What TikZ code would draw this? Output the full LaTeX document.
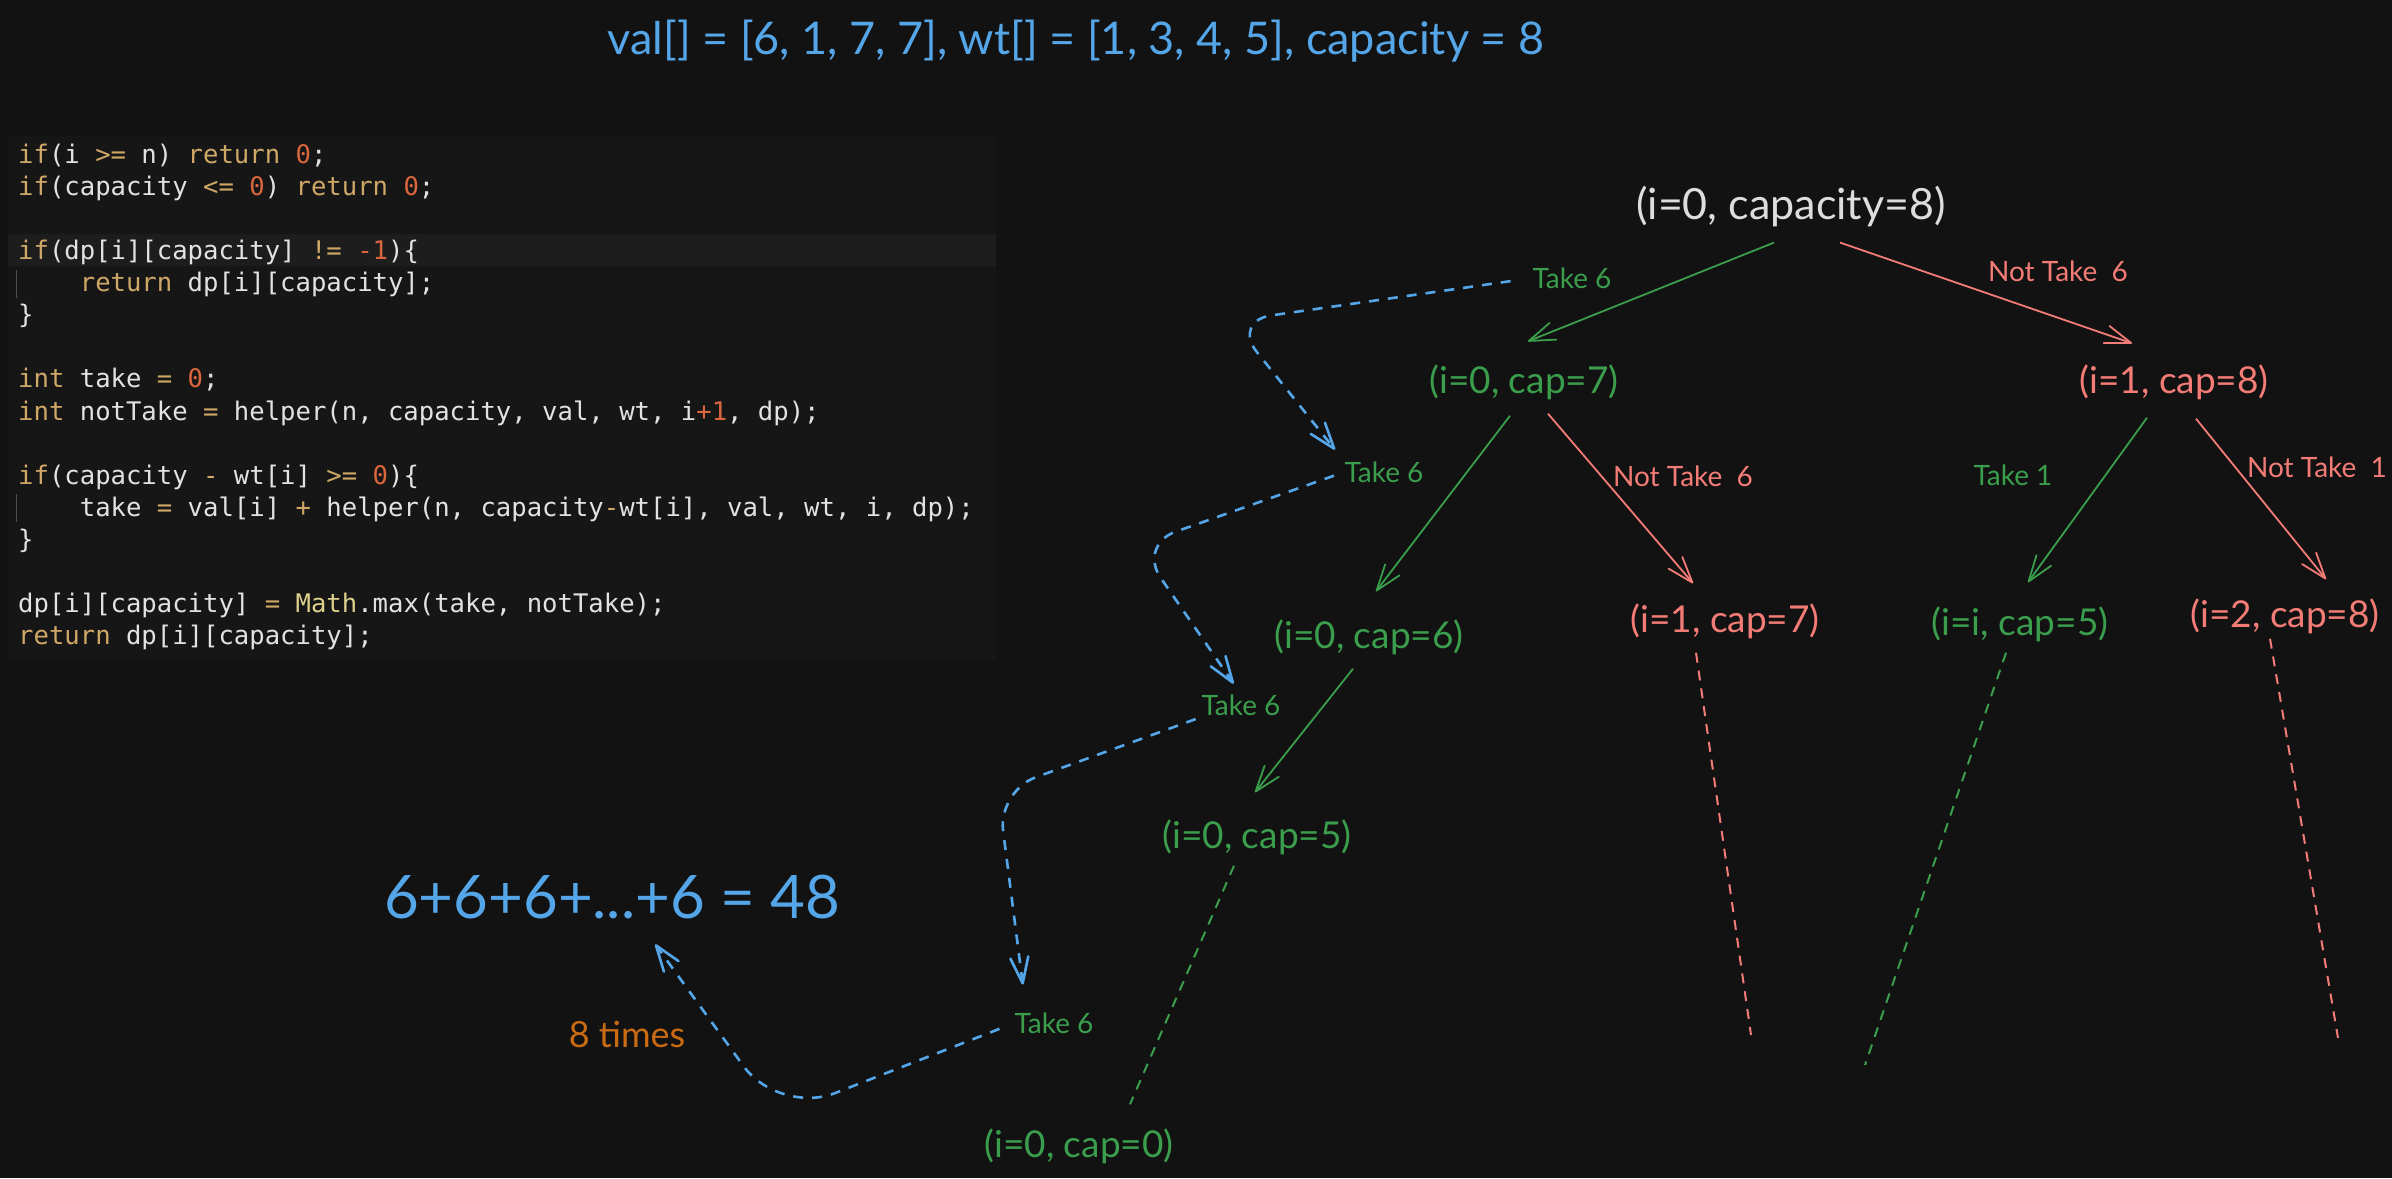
\documentclass[tikz,border=0pt]{standalone}
\usepackage{fontspec}
\setmainfont{Lato}
\newfontfamily\codefont{DejaVu Sans Mono}
\usetikzlibrary{arrows.meta,positioning}

\definecolor{bgcol}{HTML}{121212}
\definecolor{codebg}{HTML}{161616}
\definecolor{linebg}{HTML}{1D1D1D}
\definecolor{tgreen}{HTML}{3A9E4C}
\definecolor{tred}{HTML}{F47C76}
\definecolor{tblue}{HTML}{55A6E8}
\definecolor{tgray}{HTML}{DDDDDD}
\definecolor{torange}{HTML}{C96B12}
\definecolor{kwcol}{HTML}{CFA766}
\definecolor{numcol}{HTML}{D9663C}
\definecolor{txtcol}{HTML}{E2E2E2}
\definecolor{clscol}{HTML}{DCD08A}

\newcommand{\kw}[1]{\textcolor{kwcol}{#1}}
\newcommand{\nm}[1]{\textcolor{numcol}{#1}}
\newcommand{\cls}[1]{\textcolor{clscol}{#1}}
\newcommand{\indentsp}{\phantom{xxxx}}

\begin{document}
\begin{tikzpicture}[x=1pt, y=-1pt,
  >={Straight Barb[length=26pt,width=18pt,line cap=round,line join=round]},
  state/.style={inner sep=0pt, font=\fontsize{37}{44}\selectfont},
  lbl/.style={inner sep=0pt, font=\fontsize{28}{33}\selectfont},
  treearrow/.style={line width=1.8pt, ->},
  stub/.style={line width=2pt, dash pattern=on 10pt off 8pt},
  hop/.style={tblue, line width=2.6pt, dash pattern=on 10pt off 9pt, rounded corners=40pt, ->},
  codeline/.style={anchor=base west, inner sep=0pt, text=txtcol, font=\codefont\fontsize{25.6}{30}\selectfont}]

\fill[bgcol] (0,0) rectangle (2392,1178);
\useasboundingbox (0,0) rectangle (2392,1178);

\node[text=tblue, font=\fontsize{45}{52}\selectfont] (title) at (1076,41) {val[] = [6, 1, 7, 7], wt[] = [1, 3, 4, 5], capacity = 8};

\fill[codebg] (8,136) rectangle (996,660);
\fill[linebg] (8,234) rectangle (996,266);
\draw[white!25!codebg, line width=1pt] (16,270) -- (16,298);
\draw[white!25!codebg, line width=1pt] (16,494) -- (16,522);

\node[codeline] (ln1) at (18,163) {\kw{if}(i \kw{>=} n) \kw{return} \nm{0};};
\node[codeline] (ln2) at (18,195) {\kw{if}(capacity \kw{<=} \nm{0}) \kw{return} \nm{0};};
\node[codeline] (ln4) at (18,259.5) {\kw{if}(dp[i][capacity] \kw{!=} \nm{-1})\{};
\node[codeline] (ln5) at (18,291.5) {\indentsp\kw{return} dp[i][capacity];};
\node[codeline] (ln6) at (18,323.6) {\}};
\node[codeline] (ln8) at (18,387.8) {\kw{int} take \kw{=} \nm{0};};
\node[codeline] (ln9) at (18,420) {\kw{int} notTake \kw{=} helper(n, capacity, val, wt, i\nm{+1}, dp);};
\node[codeline] (ln11) at (18,484) {\kw{if}(capacity \kw{-} wt[i] \kw{>=} \nm{0})\{};
\node[codeline] (ln12) at (18,516) {\indentsp take \kw{=} val[i] \kw{+} helper(n, capacity\kw{-}wt[i], val, wt, i, dp);};
\node[codeline] (ln13) at (18,548.5) {\}};
\node[codeline] (ln15) at (18,612.7) {dp[i][capacity] \kw{=} \cls{Math}.max(take, notTake);};
\node[codeline] (ln16) at (18,644.8) {\kw{return} dp[i][capacity];};

\node[state, text=tgray, font=\fontsize{43}{50}\selectfont] (root) at (1791,207) {(i=0, capacity=8)};
\node[state, text=tgreen] (n07) at (1524,382) {(i=0, cap=7)};
\node[state, text=tred] (n18) at (2174,382) {(i=1, cap=8)};
\node[state, text=tgreen] (n06) at (1369,637) {(i=0, cap=6)};
\node[state, text=tred] (n17) at (1725,621) {(i=1, cap=7)};
\node[state, text=tgreen] (ni5) at (2020,624) {(i=i, cap=5)};
\node[state, text=tred] (n28) at (2285,616) {(i=2, cap=8)};
\node[state, text=tgreen] (n05) at (1257,837) {(i=0, cap=5)};
\node[state, text=tgreen] (n00) at (1079,1146) {(i=0, cap=0)};

\node[lbl, text=tgreen] (tk1) at (1572,278) {Take 6};
\node[lbl, text=tred] (nt1) at (2058,271) {Not Take\ \ 6};
\node[lbl, text=tgreen] (tk2) at (1384,472) {Take 6};
\node[lbl, text=tred] (nt2) at (1683,476) {Not Take\ \ 6};
\node[lbl, text=tgreen] (tk3) at (2013,475) {Take 1};
\node[lbl, text=tred] (nt3) at (2317,467) {Not Take\ \ 1};
\node[lbl, text=tgreen] (tk4) at (1241,705) {Take 6};
\node[lbl, text=tgreen] (tk5) at (1054,1023) {Take 6};

\node[inner sep=0pt, text=tblue, font=\fontsize{60}{68}\selectfont] (sum) at (612,897) {6+6+6+...+6 = 48};
\node[inner sep=0pt, text=torange, font=\fontsize{36}{42}\selectfont] (times) at (627,1034) {8 times};

\draw[treearrow, tgreen] ([xshift=-17pt,yshift=-15pt]root.south) -- ([xshift=4pt,yshift=23pt]n07.north);
\draw[treearrow, tred] ([xshift=49pt,yshift=-15pt]root.south) -- ([xshift=-42pt,yshift=21pt]n18.north);
\draw[treearrow, tgreen] ([xshift=-14pt,yshift=-16pt]n07.south) -- ([xshift=7pt,yshift=28pt]n06.north);
\draw[treearrow, tred] ([xshift=24pt,yshift=-14pt]n07.south) -- ([xshift=-32pt,yshift=20pt]n17.north);
\draw[treearrow, tgreen] ([xshift=-27pt,yshift=-18pt]n18.south) -- ([xshift=8pt,yshift=24pt]ni5.north);
\draw[treearrow, tred] ([xshift=22pt,yshift=-19pt]n18.south) -- ([xshift=41pt,yshift=19pt]n28.north);
\draw[treearrow, tgreen] ([xshift=-16pt,yshift=-14pt]n06.south) -- ([xshift=-2pt,yshift=27pt]n05.north);

\coordinate (e17) at (1751,1035);
\coordinate (ei5) at (1865,1065);
\coordinate (e28) at (2338,1038);
\draw[stub, tgreen] ([xshift=-23pt,yshift=-11pt]n05.south) -- ([xshift=51pt,yshift=24pt]n00.north);
\draw[stub, tred] ([xshift=-29pt,yshift=-14pt]n17.south) -- (e17);
\draw[stub, tgreen] ([xshift=-14pt,yshift=-11pt]ni5.south) -- (ei5);
\draw[stub, tred] ([xshift=-15pt,yshift=-5pt]n28.south) -- (e28);

\draw[hop, shorten <=22pt, shorten >=15pt] (tk1.west) -- (1232,321) -- (tk2.north west);
\draw[hop, shorten <=11pt, shorten >=13pt] (tk2.west) -- (1138,545) -- (tk4.north);
\draw[hop, shorten <=6pt, shorten >=28pt] ([yshift=-12pt]tk4.west) -- (998,791) -- ([xshift=12pt]tk5.north west);
\draw[hop, rounded corners=60pt, shorten <=16pt, shorten >=31pt] (tk5.west) -- (779,1115) -- ([xshift=25pt]sum.south);

\end{tikzpicture}
\end{document}
